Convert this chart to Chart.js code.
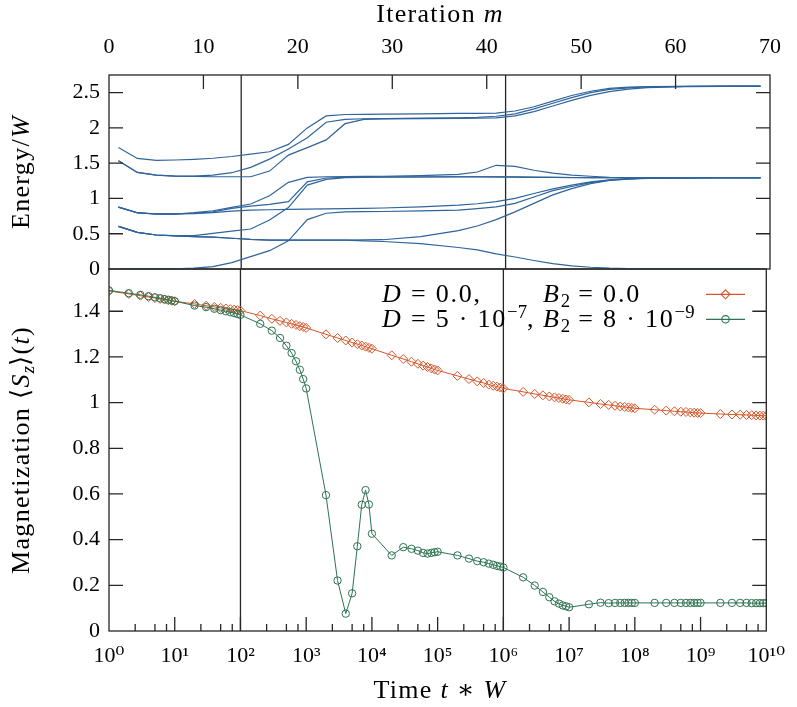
<!DOCTYPE html>
<html>
<head>
<meta charset="utf-8">
<script src="https://cdn.jsdelivr.net/npm/chart.js@4.4.0/dist/chart.umd.min.js"></script>
<style>
  html, body { margin: 0; padding: 0; background: #fff; }
  #wrap { position: relative; width: 797px; height: 707px; overflow: hidden;
          font-family: 'Liberation Serif', 'DejaVu Serif', serif; color: #000; }
  #wrap canvas { position: absolute; left: 0; top: 0; }
  #energyChart { pointer-events: none; }
  .lbl { position: absolute; font-size: 26px; line-height: 1; white-space: nowrap; letter-spacing: 1.3px; }
  .leg { letter-spacing: 1.8px; }
  .ctr { transform: translate(-50%, -50%); }
  .rot { transform: translate(-50%, -50%) rotate(-90deg); }
  .lbl sub, .lbl sup { font-size: 72%; line-height: 0; letter-spacing: 0; }
  .lbl sub { vertical-align: -0.25em; }
  .lbl sup { vertical-align: 0.5em; }
  #legendKeys { position: absolute; left: 700px; top: 280px; }
</style>
</head>
<body>
<div id="wrap">
  <canvas id="magChart" width="797" height="707"></canvas>
  <canvas id="energyChart" width="797" height="707"></canvas>

  <div class="lbl ctr" style="left:440px; top:14px;">Iteration <i>m</i></div>
  <div class="lbl ctr" style="left:440px; top:690px;">Time <i>t</i> ∗ <i>W</i></div>
  <div class="lbl rot" style="left:21px; top:172px;">Energy/<i>W</i></div>
  <div class="lbl rot" style="left:21px; top:450px;">Magnetization ⟨<i>S</i><sub><i>z</i></sub>⟩(<i>t</i>)</div>

  <div class="lbl leg" style="left:382px; top:281px;"><i>D</i> = 0.0,</div>
  <div class="lbl leg" style="left:543px; top:281px;"><i>B</i><sub>2</sub> = 0.0</div>
  <div class="lbl leg" style="left:382px; top:306px;"><i>D</i> = 5 · 10<sup>−7</sup>,</div>
  <div class="lbl leg" style="left:543px; top:306px;"><i>B</i><sub>2</sub> = 8 · 10<sup>−9</sup></div>
  <svg id="legendKeys" width="52" height="50">
    <line x1="6" y1="14.3" x2="45" y2="14.3" stroke="#d4562a" stroke-width="1.2"/>
    <polygon points="25.5,9.8 30,14.3 25.5,18.8 21,14.3" fill="none" stroke="#d4562a" stroke-width="1.1"/>
    <line x1="6" y1="39.3" x2="45" y2="39.3" stroke="#2e7352" stroke-width="1.2"/>
    <circle cx="25.5" cy="39.3" r="3.7" fill="none" stroke="#2e7352" stroke-width="1.1"/>
  </svg>
</div>

<script>
// ---- top panel: energy levels vs iteration ----
const iterations = [1, 3, 5, 7, 9, 11, 13, 15, 17, 19, 21, 23, 25, 27, 29, 33, 37, 39, 41, 43, 45, 47, 49, 51, 53, 55, 57, 61, 65, 69];

const levelA  = [1.723, 1.567, 1.539, 1.545, 1.555, 1.570, 1.595, 1.629, 1.662, 1.766, 2.000, 2.170, 2.190, 2.193, 2.195, 2.200, 2.205, 2.207, 2.210, 2.240, 2.300, 2.380, 2.460, 2.520, 2.560, 2.577, 2.585, 2.590, 2.592, 2.592];
const levelB1 = [1.535, 1.369, 1.331, 1.317, 1.317, 1.331, 1.365, 1.440, 1.558, 1.700, 1.860, 2.080, 2.120, 2.130, 2.133, 2.138, 2.143, 2.150, 2.165, 2.200, 2.270, 2.350, 2.430, 2.500, 2.545, 2.568, 2.580, 2.589, 2.592, 2.592];
const levelB2 = [1.535, 1.369, 1.331, 1.317, 1.312, 1.308, 1.308, 1.308, 1.388, 1.615, 1.720, 1.830, 2.060, 2.120, 2.128, 2.132, 2.135, 2.137, 2.143, 2.170, 2.230, 2.310, 2.390, 2.460, 2.515, 2.550, 2.570, 2.585, 2.590, 2.592];
const levelC1 = [0.878, 0.798, 0.779, 0.779, 0.798, 0.826, 0.873, 0.921, 1.039, 1.228, 1.298, 1.308, 1.310, 1.312, 1.315, 1.325, 1.340, 1.375, 1.470, 1.455, 1.400, 1.360, 1.330, 1.315, 1.300, 1.296, 1.295, 1.294, 1.294, 1.294];
const levelC2 = [0.878, 0.798, 0.780, 0.780, 0.790, 0.810, 0.860, 0.890, 0.916, 0.955, 1.236, 1.290, 1.300, 1.305, 1.306, 1.307, 1.308, 1.308, 1.307, 1.305, 1.302, 1.299, 1.297, 1.296, 1.295, 1.294, 1.294, 1.294, 1.294, 1.294];
const levelC3 = [0.878, 0.795, 0.780, 0.780, 0.785, 0.800, 0.820, 0.835, 0.840, 0.845, 0.850, 0.853, 0.856, 0.860, 0.865, 0.880, 0.906, 0.925, 0.955, 1.000, 1.070, 1.135, 1.190, 1.235, 1.265, 1.280, 1.288, 1.293, 1.294, 1.294];
const levelD1 = [0.604, 0.519, 0.482, 0.473, 0.473, 0.506, 0.538, 0.567, 0.694, 0.870, 1.190, 1.270, 1.295, 1.300, 1.302, 1.304, 1.306, 1.306, 1.305, 1.303, 1.300, 1.298, 1.296, 1.295, 1.294, 1.294, 1.294, 1.294, 1.294, 1.294];
const levelD2 = [0.604, 0.520, 0.482, 0.470, 0.460, 0.452, 0.436, 0.420, 0.410, 0.410, 0.410, 0.410, 0.410, 0.412, 0.415, 0.460, 0.545, 0.610, 0.700, 0.810, 0.930, 1.050, 1.140, 1.210, 1.255, 1.275, 1.285, 1.292, 1.294, 1.294];
const levelD3 = [0.604, 0.520, 0.482, 0.470, 0.460, 0.452, 0.436, 0.420, 0.410, 0.410, 0.410, 0.410, 0.408, 0.400, 0.390, 0.360, 0.305, 0.270, 0.215, 0.170, 0.120, 0.075, 0.045, 0.025, 0.012, 0.005, 0.002, 0.000, 0.000, 0.000];
const levelZ  = [0.000, 0.000, 0.000, 0.003, 0.012, 0.033, 0.090, 0.175, 0.260, 0.400, 0.700, 0.790, 0.810, 0.812, 0.815, 0.825, 0.835, 0.855, 0.880, 0.930, 1.020, 1.110, 1.170, 1.225, 1.260, 1.278, 1.287, 1.293, 1.294, 1.294];

const energyLevels = [levelA, levelB1, levelB2, levelC1, levelC2, levelC3, levelD1, levelD2, levelD3, levelZ];

const iterTicks = [0, 10, 20, 30, 40, 50, 60, 70];
const iterTickLabels = ['0', '10', '20', '30', '40', '50', '60', '70'];
const energyTicks = [0, 0.5, 1, 1.5, 2, 2.5];
const energyTickLabels = ['0', '0.5', '1', '1.5', '2', '2.5'];
const energyRange = [0, 2.75];
const markerIterations = [14, 42];

// ---- bottom panel: magnetization vs time ----
const times = [
  1e0, 2e0, 3e0, 4e0, 5e0, 6e0, 7e0, 8e0, 9e0,
  1e1, 2e1, 3e1, 4e1, 5e1, 6e1, 7e1, 8e1, 9e1,
  1e2, 2e2, 3e2, 4e2, 5e2, 6e2, 7e2, 8e2, 9e2,
  1e3, 2e3, 3e3, 4e3, 5e3, 6e3, 7e3, 8e3, 9e3,
  1e4, 2e4, 3e4, 4e4, 5e4, 6e4, 7e4, 8e4, 9e4,
  1e5, 2e5, 3e5, 4e5, 5e5, 6e5, 7e5, 8e5, 9e5,
  1e6, 2e6, 3e6, 4e6, 5e6, 6e6, 7e6, 8e6, 9e6,
  1e7, 2e7, 3e7, 4e7, 5e7, 6e7, 7e7, 8e7, 9e7,
  1e8, 2e8, 3e8, 4e8, 5e8, 6e8, 7e8, 8e8, 9e8,
  1e9, 2e9, 3e9, 4e9, 5e9, 6e9, 7e9, 8e9, 9e9,
  1e10
];

const magPlain = [
  1.489, 1.476, 1.468, 1.462, 1.458, 1.454, 1.451, 1.448, 1.446,
  1.444, 1.432, 1.424, 1.419, 1.415, 1.412, 1.409, 1.407, 1.405,
  1.403, 1.381, 1.367, 1.358, 1.351, 1.345, 1.340, 1.335, 1.331,
  1.327, 1.299, 1.283, 1.272, 1.263, 1.256, 1.250, 1.245, 1.240,
  1.236, 1.207, 1.191, 1.179, 1.170, 1.162, 1.156, 1.150, 1.145,
  1.141, 1.117, 1.103, 1.093, 1.086, 1.079, 1.074, 1.070, 1.066,
  1.062, 1.047, 1.038, 1.032, 1.027, 1.023, 1.020, 1.017, 1.014,
  1.012, 1.001, 0.994, 0.990, 0.986, 0.983, 0.981, 0.979, 0.977,
  0.975, 0.969, 0.965, 0.962, 0.960, 0.959, 0.957, 0.956, 0.955,
  0.954, 0.950, 0.948, 0.947, 0.946, 0.945, 0.944, 0.943, 0.943,
  0.942
];

const magField = [
  1.491, 1.479, 1.472, 1.466, 1.461, 1.457, 1.453, 1.450, 1.447,
  1.444, 1.425, 1.418, 1.411, 1.405, 1.400, 1.396, 1.392, 1.388,
  1.384, 1.345, 1.315, 1.283, 1.249, 1.217, 1.181, 1.144, 1.103,
  1.062, 0.595, 0.221, 0.076, 0.165, 0.371, 0.553, 0.617, 0.554,
  0.426, 0.331, 0.367, 0.360, 0.352, 0.342, 0.339, 0.342, 0.345,
  0.347, 0.331, 0.317, 0.306, 0.301, 0.295, 0.290, 0.285, 0.282,
  0.278, 0.235, 0.199, 0.171, 0.148, 0.130, 0.120, 0.112, 0.108,
  0.104, 0.117, 0.124, 0.122, 0.123, 0.123, 0.123, 0.123, 0.123,
  0.123, 0.123, 0.123, 0.123, 0.123, 0.123, 0.123, 0.123, 0.123,
  0.123, 0.123, 0.123, 0.123, 0.123, 0.122, 0.122, 0.122, 0.122,
  0.122
];

const timeDecades = [0, 1, 2, 3, 4, 5, 6, 7, 8, 9, 10];
const timeTickLabels = ['10⁰', '10¹', '10²', '10³', '10⁴', '10⁵', '10⁶', '10⁷', '10⁸', '10⁹', '10¹⁰'];
const minorMantissas = [2.5, 5, 7.5];
const magTicks = [0, 0.2, 0.4, 0.6, 0.8, 1, 1.2, 1.4];
const magTickLabels = ['0', '0.2', '0.4', '0.6', '0.8', '1', '1.2', '1.4'];
const magRange = [0, 1.585];
const markerTimes = [1e2, 1e6];

// ---- styling ----
const LEVEL_COLOR = '#2f649c';
const PLAIN_COLOR = '#d4562a';
const FIELD_COLOR = '#2e7352';
const FRAME_COLOR = '#262626';
const tickFont = { family: "'Liberation Serif', 'DejaVu Serif', serif", size: 22 };

// box + inward mirrored ticks like the gnuplot original
const framePlugin = {
  id: 'frame',
  afterDatasetsDraw(chart, args, opts) {
    const { ctx, chartArea: a } = chart;
    const x = chart.scales.x, y = chart.scales.y;
    ctx.save();
    ctx.strokeStyle = FRAME_COLOR;
    ctx.lineWidth = 1.3;
    ctx.beginPath();
    y.ticks.forEach(t => {
      const py = y.getPixelForValue(t.value);
      if (py <= a.top + 1 || py >= a.bottom - 1) return;
      ctx.moveTo(a.left, py); ctx.lineTo(a.left + 14, py);
      ctx.moveTo(a.right, py); ctx.lineTo(a.right - 14, py);
    });
    x.ticks.forEach(t => {
      const px = x.getPixelForValue(t.value);
      if (px <= a.left + 1 || px >= a.right - 1) return;
      const len = t.major ? 14 : 7;
      if (opts.xSide === 'top') { ctx.moveTo(px, a.top); ctx.lineTo(px, a.top + len); }
      else { ctx.moveTo(px, a.bottom); ctx.lineTo(px, a.bottom - len); }
    });
    ctx.stroke();
    ctx.strokeRect(a.left, a.top, a.width, a.height);
    ctx.restore();
  }
};

function markerLine(xv, range) {
  return {
    data: [{ x: xv, y: range[0] }, { x: xv, y: range[1] }],
    borderColor: FRAME_COLOR, borderWidth: 1.3, pointRadius: 0, order: 5,
  };
}

const energyDatasets = energyLevels.map(lv => ({
  data: iterations.map((m, i) => ({ x: m, y: lv[i] })),
  borderColor: LEVEL_COLOR, borderWidth: 1.2, pointRadius: 0, tension: 0,
}));
markerIterations.forEach(m => energyDatasets.push(markerLine(m, energyRange)));

new Chart(document.getElementById('energyChart'), {
  type: 'line',
  data: { datasets: energyDatasets },
  options: {
    responsive: false, animation: false, events: [],
    layout: { padding: { left: 0, right: 27, top: 0, bottom: 438 } },
    plugins: { legend: { display: false }, tooltip: { enabled: false }, frame: { xSide: 'top' } },
    scales: {
      x: {
        type: 'linear', position: 'top', min: 0, max: 70,
        grid: { display: false, drawTicks: false }, border: { display: false },
        afterBuildTicks: s => { s.ticks = iterTicks.map(v => ({ value: v, major: true })); },
        ticks: { autoSkip: false, maxRotation: 0, padding: 15, color: '#000', font: tickFont,
                 callback: (v, i) => iterTickLabels[i] },
        afterFit: s => { s.height = 75; },
      },
      y: {
        min: energyRange[0], max: energyRange[1],
        grid: { display: false, drawTicks: false }, border: { display: false },
        afterBuildTicks: s => { s.ticks = energyTicks.map(v => ({ value: v })); },
        ticks: { autoSkip: false, padding: 9, color: '#000', font: tickFont,
                 callback: (v, i) => energyTickLabels[i] },
        afterFit: s => { s.width = 109; },
      },
    },
  },
  plugins: [framePlugin],
});

const magDatasets = [
  {
    label: 'D = 0.0, B2 = 0.0',
    data: times.map((t, i) => ({ x: t, y: magPlain[i] })),
    borderColor: PLAIN_COLOR, borderWidth: 1, backgroundColor: 'transparent',
    pointStyle: 'rectRot', pointRadius: 4.5, pointBorderWidth: 1, order: 2,
  },
  {
    label: 'D = 5e-7, B2 = 8e-9',
    data: times.map((t, i) => ({ x: t, y: magField[i] })),
    borderColor: FIELD_COLOR, borderWidth: 1, backgroundColor: 'transparent',
    pointStyle: 'circle', pointRadius: 3.7, pointBorderWidth: 1, order: 1,
  },
];
markerTimes.forEach(t => magDatasets.push(markerLine(t, magRange)));

const logTicks = [];
timeDecades.forEach(d => {
  logTicks.push({ value: Math.pow(10, d), major: true });
  if (d < timeDecades[timeDecades.length - 1]) {
    minorMantissas.forEach(k => logTicks.push({ value: k * Math.pow(10, d), major: false }));
  }
});

new Chart(document.getElementById('magChart'), {
  type: 'line',
  data: { datasets: magDatasets },
  options: {
    responsive: false, animation: false, events: [],
    layout: { padding: { left: 0, right: 27, top: 269, bottom: 0 } },
    plugins: { legend: { display: false }, tooltip: { enabled: false }, frame: { xSide: 'bottom' } },
    scales: {
      x: {
        type: 'logarithmic', position: 'bottom', min: 1, max: 1e10,
        grid: { display: false, drawTicks: false }, border: { display: false },
        afterBuildTicks: s => { s.ticks = logTicks.map(t => ({ ...t })); },
        ticks: {
          autoSkip: false, maxRotation: 0, padding: 12, color: '#000', font: tickFont,
          callback: (v) => {
            const e = Math.log10(v);
            if (Math.abs(e - Math.round(e)) > 1e-9) return '';
            return timeTickLabels[timeDecades.indexOf(Math.round(e))];
          },
        },
        afterFit: s => { s.height = 76; },
      },
      y: {
        min: magRange[0], max: magRange[1],
        grid: { display: false, drawTicks: false }, border: { display: false },
        afterBuildTicks: s => { s.ticks = magTicks.map(v => ({ value: v })); },
        ticks: { autoSkip: false, padding: 9, color: '#000', font: tickFont,
                 callback: (v, i) => magTickLabels[i] },
        afterFit: s => { s.width = 109; },
      },
    },
  },
  plugins: [framePlugin],
});
</script>
</body>
</html>
